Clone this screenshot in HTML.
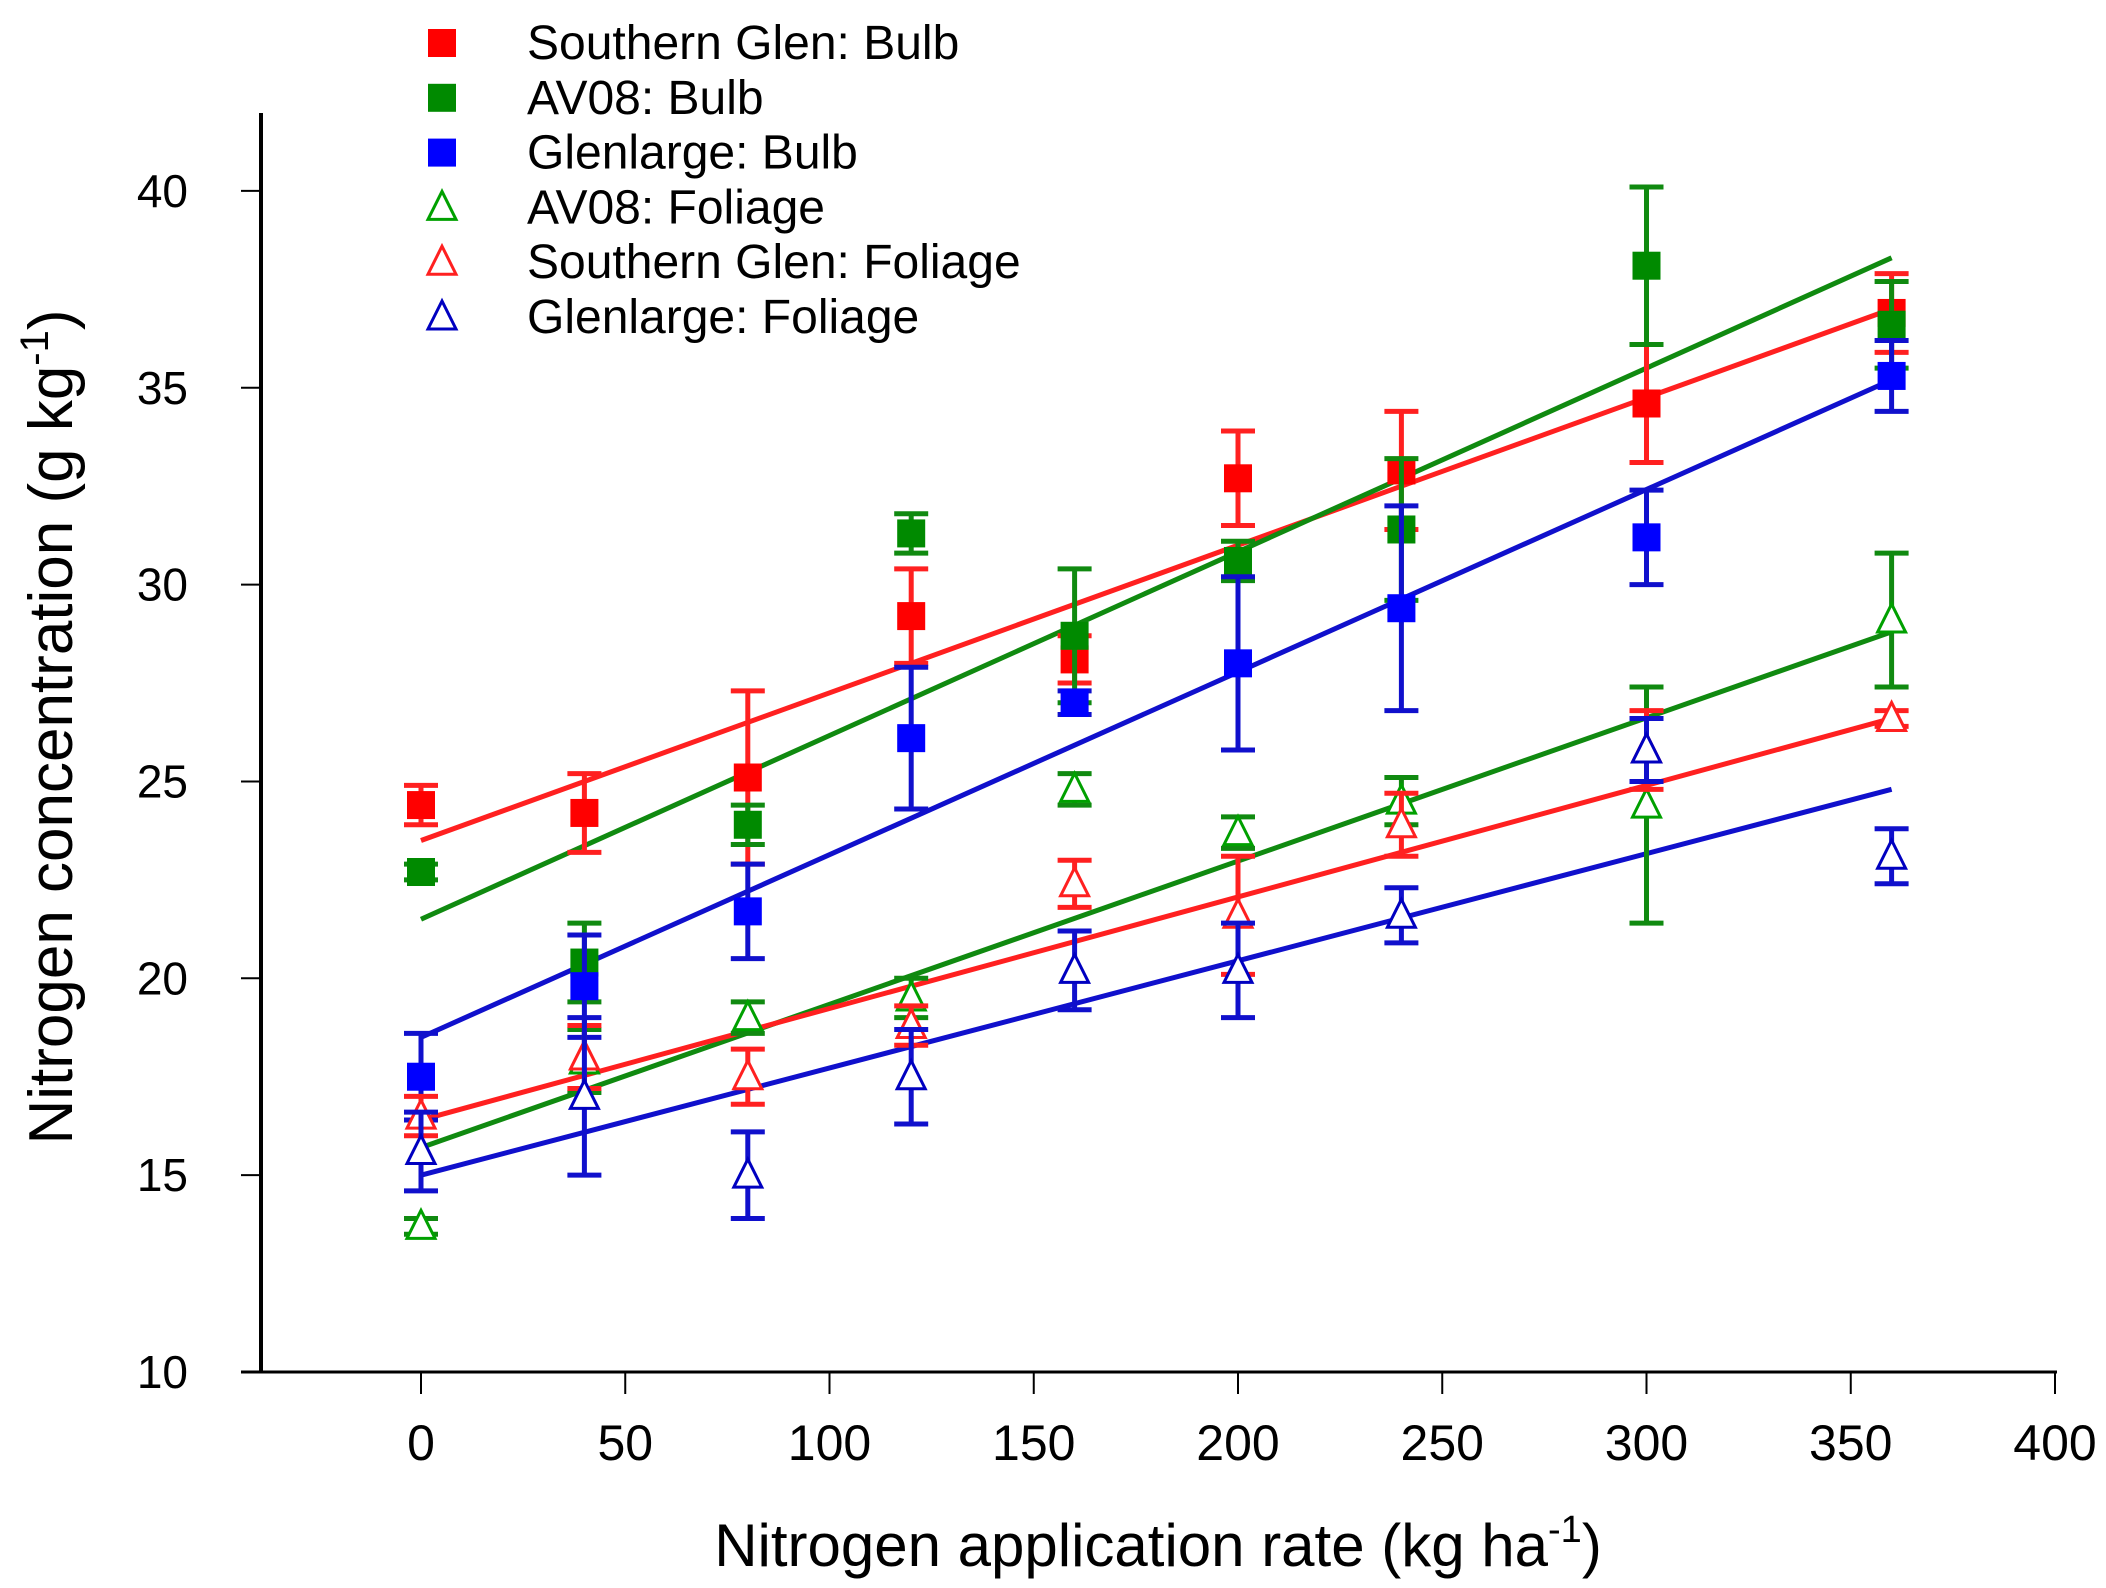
<!DOCTYPE html>
<html><head><meta charset="utf-8"><style>
html,body{margin:0;padding:0;background:#fff;}
svg{display:block;font-family:"Liberation Sans",Arial,sans-serif;}
</style></head><body>
<svg id="chart" width="2106" height="1588" viewBox="0 0 2106 1588" xmlns="http://www.w3.org/2000/svg">
<g id="axes"></g>
<g id="lines"></g>
<g id="marks"></g>
<g id="legend"></g>
<text x="1158" y="1566" font-size="60" text-anchor="middle">Nitrogen application rate (kg ha<tspan dy="-24" font-size="38">-1</tspan><tspan dy="24">)</tspan></text>
<text transform="translate(72,727) rotate(-90)" font-size="62" text-anchor="middle">Nitrogen concentration (g kg<tspan dy="-24" font-size="40">-1</tspan><tspan dy="24">)</tspan></text>
</svg>
<script>
const rates = [0,40,80,120,160,200,240,300,360];
const xTicks = [0,50,100,150,200,250,300,350,400];
const yTicks = [10,15,20,25,30,35,40];
const seriesNames = ["Southern Glen: Bulb","AV08: Bulb","Glenlarge: Bulb","AV08: Foliage","Southern Glen: Foliage","Glenlarge: Foliage"];
const sgBulb = [24.4,24.2,25.1,29.2,28.1,32.7,32.9,34.6,36.9];
const sgBulbErr = [0.5,1.0,2.2,1.2,0.6,1.2,1.5,1.5,1.0];
const avBulb = [22.7,20.4,23.9,31.3,28.7,30.6,31.4,38.1,36.6];
const avBulbErr = [0.2,1.0,0.5,0.5,1.7,0.5,1.8,2.0,1.1];
const glBulb = [17.5,19.8,21.7,26.1,27.0,28.0,29.4,31.2,35.3];
const glBulbErr = [1.1,1.3,1.2,1.8,0.3,2.2,2.6,1.2,0.9];
const avFol = [13.7,17.9,19.0,19.5,24.8,23.7,24.5,24.4,29.1];
const avFolErr = [0.2,0.8,0.4,0.5,0.4,0.4,0.6,3.0,1.7];
const sgFol = [16.5,18.0,17.5,18.8,22.4,21.6,23.9,25.8,26.6];
const sgFolErr = [0.5,0.8,0.7,0.5,0.6,1.5,0.8,1.0,0.2];
const glFol = [15.6,17.0,15.0,17.5,20.2,20.2,21.6,25.8,23.1];
const glFolErr = [1.0,2.0,1.1,1.2,1.0,1.2,0.7,0.8,0.7];
const fitStart = [23.5,21.5,18.5,15.7,16.4,15.0];
const fitEnd = [37.0,38.3,35.2,28.8,26.6,24.8];

const NS="http://www.w3.org/2000/svg";
const X0=421, XS=4.085, Y10=1372, YS=39.37;
const xs=v=>X0+v*XS, ys=v=>Y10-(v-10)*YS;
function mk(tag,attrs,parent){const e=document.createElementNS(NS,tag);for(const k in attrs)e.setAttribute(k,attrs[k]);parent.appendChild(e);return e;}
const axes=document.getElementById('axes');
let a=mk('line',{x1:261,y1:113,x2:261,y2:ys(10),stroke:'#000','stroke-width':4},axes);


a=mk('line',{x1:241,y1:ys(10),x2:xs(400)+2,y2:ys(10),stroke:'#000','stroke-width':3},axes);


yTicks.forEach(t=>{
  const l=mk('line',{x1:241,y1:ys(t),x2:261,y2:ys(t),stroke:'#000','stroke-width':2},axes);
  
  
  const tx=mk('text',{x:188,y:ys(t)+16,'font-size':46,'text-anchor':'end'},axes);
  tx.textContent=t;
  
  
});
xTicks.forEach(t=>{
  const l=mk('line',{x1:xs(t),y1:ys(10),x2:xs(t),y2:ys(10)+22,stroke:'#000','stroke-width':2},axes);
  
  
  const tx=mk('text',{x:xs(t),y:1460,'font-size':50,'text-anchor':'middle'},axes);
  tx.textContent=t;
  
  
});
const vals=[sgBulb,avBulb,glBulb,avFol,sgFol,glFol];
const errs=[sgBulbErr,avBulbErr,glBulbErr,avFolErr,sgFolErr,glFolErr];
const cols=['#ff0000','#008a00','#0000ff','#00a000','#ff2020','#0000c0'];
const lcols=['#ff2020','#108a10','#1010cc','#108a10','#ff2020','#1010cc'];
const filled=[true,true,true,false,false,false];
const lg=document.getElementById('lines');
fitStart.forEach((s,i)=>{
  const l=mk('line',{x1:xs(0),y1:ys(s),x2:xs(360),y2:ys(fitEnd[i]),stroke:lcols[i],'stroke-width':5},lg);
  
  
});
const mg=document.getElementById('marks');
function marker(kind,x,y,c,parent){
  if(kind) return mk('rect',{x:x-14,y:y-14,width:28,height:28,fill:c},parent);
  return mk('polygon',{points:`${x},${y-16} ${x-14},${y+12} ${x+14},${y+12}`,fill:'#fff',stroke:c,'stroke-width':3},parent);
}
vals.forEach((arr,i)=>{
  arr.forEach((v,j)=>{
    const x=xs(rates[j]), e=errs[i][j];
    const g=mk('g',{},mg);
    
    
    const st={stroke:lcols[i],'stroke-width':5};
    mk('line',Object.assign({x1:x,y1:ys(v+e),x2:x,y2:ys(v-e)},st),g);
    mk('line',Object.assign({x1:x-17,y1:ys(v+e),x2:x+17,y2:ys(v+e)},st),g);
    mk('line',Object.assign({x1:x-17,y1:ys(v-e),x2:x+17,y2:ys(v-e)},st),g);
    marker(filled[i],x,ys(v),cols[i],g);
  });
});
const leg=document.getElementById('legend');
seriesNames.forEach((n,i)=>{
  const y=43+i*54.8;
  const g=mk('g',{},leg);
  
  
  marker(filled[i],442,y,cols[i],g);
  const t=mk('text',{x:527,y:y+16,'font-size':48},g);
  t.textContent=n;
});
</script>
</body></html>
